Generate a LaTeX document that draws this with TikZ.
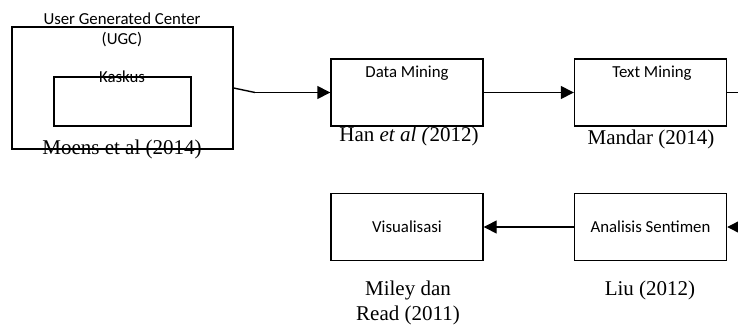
\documentclass[tikz,border=0pt]{standalone}
\usepackage{fontspec}
\setmainfont{Liberation Serif}
\newfontfamily\boxfont{Carlito}
\usetikzlibrary{arrows.meta}

\tikzset{
  frame/.style={draw, line width=1.4pt, inner sep=0pt},
  stage/.style={frame, minimum width=152pt, minimum height=67pt},
  boxlabel/.style={font=\boxfont\fontsize{16.8}{20}\selectfont, anchor=base, inner sep=0pt},
  refnote/.style={font=\fontsize{21}{25}\selectfont, anchor=base, inner sep=0pt},
  link/.style={line width=1.4pt},
  flow/.style={link, -{Triangle[length=13pt,width=13pt]}}
}

\begin{document}
\begin{tikzpicture}[x=1pt, y=-1pt]
\useasboundingbox (0,0) rectangle (738,325);

% source: user generated content site
\node[frame, minimum width=221pt, minimum height=122pt] (ugc) at (122.5,88) {};
\node[frame, minimum width=137pt, minimum height=49pt] (kaskus) at (122.5,101.5) {};
\node[boxlabel] (ugctitle) at (122,24) {User Generated Center};
\node[boxlabel] (ugcabbr) at (122,44) {(UGC)};
\node[boxlabel] (kaskuslabel) at (122,82) {Kaskus};
\node[refnote] (moens) at (122,154) {Moens et al (2014)};

% processing stages
\node[stage] (dm) at (407,92.5) {};
\node[boxlabel] (dmlabel) at (407,77) {Data Mining};
\node[refnote] (han) at (409,141) {Han \textit{et al (}2012)};

\node[stage] (tm) at (650.5,92.5) {};
\node[boxlabel] (tmlabel) at (652,77) {Text Mining};
\node[refnote] (mandar) at (651,144) {Mandar (2014)};

\node[stage] (as) at (650.5,227) {};
\node[boxlabel] (aslabel) at (650.5,232) {Analisis Sentimen};
\node[refnote] (liu) at (650,295) {Liu (2012)};

\node[stage] (vis) at (407,227) {};
\node[boxlabel] (vislabel) at (407,232) {Visualisasi};
\node[refnote] (miley) at (408,295) {Miley dan};
\node[refnote] (read) at (408,320) {Read (2011)};

% connectors
\coordinate (bend) at (255,92.5);
\coordinate (outright) at (738,92.5);
\coordinate (inright) at (738,227);

\draw[link] (ugc.east) -- (bend);
\draw[flow] (bend) -- (dm.west);
\draw[flow] (dm.east) -- (tm.west);
\draw[link] (tm.east) -- (outright);
\draw[flow] (inright) -- (as.east);
\draw[flow] (as.west) -- (vis.east);
\end{tikzpicture}
\end{document}
